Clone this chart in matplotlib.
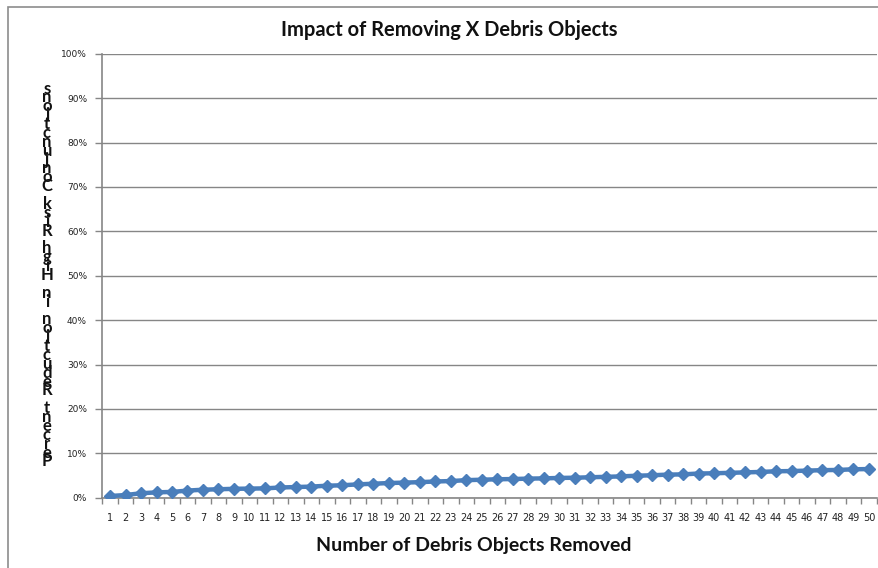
import matplotlib
matplotlib.use('Agg')
import matplotlib.pyplot as plt
import numpy as np
from matplotlib.patches import Rectangle
from matplotlib.ticker import FuncFormatter, FixedLocator

# data
objects_removed = list(range(1, 51))
reduction_pct = [0.38, 0.6, 1.0, 1.2, 1.3, 1.6, 1.8, 1.9, 2.0, 2.05,
                 2.1, 2.3, 2.4, 2.5, 2.7, 2.8, 3.0, 3.15, 3.3, 3.4,
                 3.5, 3.65, 3.75, 3.95, 4.05, 4.15, 4.2, 4.3, 4.35, 4.45,
                 4.5, 4.6, 4.7, 4.8, 4.95, 5.05, 5.2, 5.25, 5.45, 5.5,
                 5.6, 5.7, 5.8, 5.95, 6.0, 6.1, 6.2, 6.25, 6.4, 6.45]
y_ticks = [0, 10, 20, 30, 40, 50, 60, 70, 80, 90, 100]

title = 'Impact of Removing X Debris Objects'
x_label = 'Number of Debris Objects Removed'
y_label = 'Percent Reduction in High Risk Conjunctions'

W, H = 879, 568
grey = '#868686'
blue = '#4A7EBB'

fig = plt.figure(figsize=(W / 100, H / 100), dpi=100)
ax = fig.add_axes([102.3 / W, 1 - 497.7 / H, (876.7 - 102.3) / W, (497.7 - 53.7) / H])

ax.plot(objects_removed, reduction_pct, color=blue, lw=3.2, marker='D', ms=6.5,
        markerfacecolor=blue, markeredgecolor=blue, zorder=3)

ax.set_xlim(0.5, 50.5)
ax.set_ylim(0, 100)
ax.set_yticks(y_ticks)
ax.yaxis.set_major_formatter(FuncFormatter(lambda v, p: f'{v:.0f}%'))
ax.grid(axis='y', color=grey, lw=1)
ax.set_axisbelow(True)

# category boundaries get the tick marks, centres get the labels
ax.xaxis.set_major_locator(FixedLocator(np.arange(0.5, 51, 1)))
ax.xaxis.set_minor_locator(FixedLocator(objects_removed))
ax.set_xticklabels([])
ax.set_xticklabels([str(n) for n in objects_removed], minor=True)
ax.tick_params(axis='x', which='major', length=4, color=grey, width=1)
ax.tick_params(axis='x', which='minor', length=0, pad=11, labelsize=7, labelcolor='#222222')
ax.tick_params(axis='y', length=5, color=grey, width=1, pad=6, labelsize=6.5, labelcolor='#222222')

for s in ['top', 'right']:
    ax.spines[s].set_visible(False)
for s in ['left', 'bottom']:
    ax.spines[s].set_color(grey)
    ax.spines[s].set_linewidth(1.2)

fig.text(449 / W, 1 - 30 / H, title, ha='center', va='center', fontsize=14.5,
         fontweight='bold', family='Lato', color='#111111')
fig.text(474 / W, 1 - 546 / H, x_label, ha='center', va='center', fontsize=14,
         fontweight='bold', family='Lato', color='#111111')

# stacked, reversed y label as in the original, one character per line
stacked = '\n'.join(y_label[::-1])
fig.text(47 / W, 1 - 275 / H, stacked, ha='center', va='center', ma='center',
         fontsize=12, family='Lato', fontweight='bold', color='#111111', linespacing=0.452)

# outer chart border (left and top visible)
fig.patches.append(Rectangle((8 / W, -0.2), 1.2, 1.2 - 6.5 / H, transform=fig.transFigure,
                             fill=False, edgecolor='#8c8c8c', lw=1.2))

fig.savefig('out.png', dpi=100)
